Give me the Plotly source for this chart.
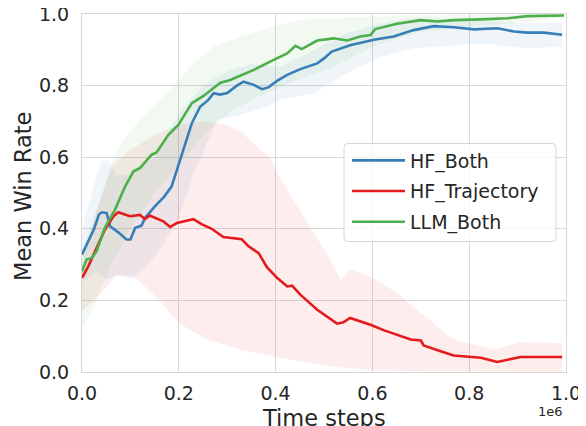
import plotly.graph_objects as go

# ---- data (x in units of 1e6 time steps) ----
hf_both_x = [0.0, 0.015, 0.025, 0.035, 0.041, 0.051, 0.058, 0.075, 0.092, 0.100, 0.110, 0.123, 0.130,
             0.150, 0.170, 0.185, 0.198, 0.213, 0.227, 0.244, 0.261, 0.272, 0.285, 0.300, 0.320, 0.334,
             0.355, 0.372, 0.385, 0.403, 0.424, 0.451, 0.486, 0.500, 0.516, 0.554, 0.603, 0.644, 0.685,
             0.727, 0.768, 0.810, 0.858, 0.893, 0.920, 0.954, 0.992]
hf_both_y = [0.328, 0.370, 0.400, 0.440, 0.446, 0.444, 0.407, 0.390, 0.370, 0.370, 0.403, 0.409, 0.430,
             0.462, 0.490, 0.518, 0.574, 0.639, 0.695, 0.741, 0.760, 0.779, 0.775, 0.779, 0.800, 0.811,
             0.802, 0.790, 0.795, 0.813, 0.830, 0.846, 0.862, 0.876, 0.895, 0.913, 0.928, 0.937, 0.955,
             0.966, 0.963, 0.957, 0.960, 0.951, 0.948, 0.948, 0.942]
hf_both_up_x = [0.0, 0.02, 0.04, 0.055, 0.07, 0.10, 0.15, 0.20, 0.25, 0.30, 0.35, 0.41, 0.48, 0.548,
                0.62, 0.685, 0.80, 0.90, 0.992]
hf_both_up = [0.40, 0.50, 0.59, 0.59, 0.55, 0.55, 0.60, 0.72, 0.80, 0.84, 0.86, 0.853, 0.90, 0.946,
              0.975, 0.988, 0.985, 0.975, 0.975]
hf_both_lo_x = [0.0, 0.03, 0.05, 0.07, 0.10, 0.13, 0.16, 0.20, 0.23, 0.279, 0.33, 0.382, 0.41, 0.48,
                0.548, 0.617, 0.685, 0.824, 0.92, 0.992]
hf_both_lo = [0.25, 0.28, 0.258, 0.27, 0.26, 0.29, 0.34, 0.43, 0.55, 0.704, 0.72, 0.741, 0.76, 0.78,
              0.835, 0.88, 0.904, 0.918, 0.904, 0.909]

hf_traj_x = [0.0, 0.013, 0.027, 0.047, 0.065, 0.075, 0.099, 0.120, 0.130, 0.140, 0.168, 0.182, 0.196,
             0.230, 0.247, 0.268, 0.292, 0.330, 0.344, 0.365, 0.382, 0.403, 0.424, 0.434, 0.451, 0.486,
             0.527, 0.540, 0.554, 0.568, 0.596, 0.623, 0.658, 0.679, 0.700, 0.706, 0.741, 0.768, 0.824,
             0.858, 0.906, 0.961, 0.992]
hf_traj_y = [0.263, 0.295, 0.337, 0.397, 0.435, 0.446, 0.435, 0.439, 0.427, 0.437, 0.421, 0.405, 0.416,
             0.427, 0.413, 0.400, 0.377, 0.371, 0.351, 0.332, 0.293, 0.263, 0.239, 0.241, 0.216, 0.174,
             0.135, 0.139, 0.151, 0.145, 0.132, 0.117, 0.102, 0.091, 0.088, 0.074, 0.058, 0.046, 0.040,
             0.028, 0.042, 0.041, 0.042]
hf_traj_up_x = [0.0, 0.03, 0.064, 0.10, 0.148, 0.20, 0.25, 0.30, 0.33, 0.36, 0.39, 0.403, 0.437, 0.479,
                0.513, 0.534, 0.554, 0.596, 0.651, 0.70, 0.768, 0.851, 0.906, 0.992]
hf_traj_up = [0.30, 0.45, 0.58, 0.62, 0.66, 0.69, 0.70, 0.69, 0.67, 0.63, 0.60, 0.556, 0.48, 0.388,
              0.314, 0.258, 0.286, 0.267, 0.221, 0.165, 0.091, 0.063, 0.083, 0.081]
hf_traj_lo_x = [0.0, 0.04, 0.07, 0.10, 0.13, 0.16, 0.20, 0.257, 0.327, 0.396, 0.45, 0.52, 0.60, 0.70, 0.992]
hf_traj_lo = [0.17, 0.22, 0.27, 0.27, 0.24, 0.20, 0.137, 0.091, 0.063, 0.044, 0.030, 0.016, 0.005, 0.002, 0.0]

llm_both_x = [0.0, 0.0095, 0.020, 0.030, 0.047, 0.068, 0.089, 0.106, 0.120, 0.144, 0.154, 0.178, 0.199,
              0.227, 0.251, 0.272, 0.286, 0.305, 0.327, 0.355, 0.396, 0.424, 0.441, 0.454, 0.486, 0.520,
              0.548, 0.575, 0.596, 0.606, 0.651, 0.700, 0.734, 0.768, 0.824, 0.879, 0.920, 0.996]
llm_both_y = [0.281, 0.314, 0.318, 0.337, 0.402, 0.453, 0.518, 0.560, 0.570, 0.607, 0.613, 0.662, 0.690,
              0.751, 0.771, 0.793, 0.808, 0.815, 0.827, 0.844, 0.872, 0.890, 0.911, 0.902, 0.926, 0.932,
              0.926, 0.937, 0.941, 0.958, 0.973, 0.983, 0.979, 0.983, 0.985, 0.988, 0.994, 0.996]
llm_both_up_x = [0.0, 0.03, 0.06, 0.085, 0.12, 0.175, 0.23, 0.272, 0.327, 0.396, 0.45, 0.55, 0.70, 0.996]
llm_both_up = [0.34, 0.45, 0.58, 0.648, 0.704, 0.779, 0.862, 0.909, 0.937, 0.965, 0.983, 0.99, 0.998, 1.0]
llm_both_lo_x = [0.0, 0.03, 0.06, 0.10, 0.15, 0.20, 0.25, 0.30, 0.35, 0.40, 0.45, 0.52, 0.60, 0.70,
                 0.80, 0.90, 0.996]
llm_both_lo = [0.12, 0.20, 0.30, 0.40, 0.50, 0.58, 0.66, 0.72, 0.76, 0.79, 0.82, 0.853, 0.909, 0.95,
               0.965, 0.975, 0.99]

x_ticks = [0.0, 0.2, 0.4, 0.6, 0.8, 1.0]
x_tick_labels = ["0.0", "0.2", "0.4", "0.6", "0.8", "1.0"]
y_ticks = [0.0, 0.2, 0.4, 0.6, 0.8, 1.0]
y_tick_labels = ["0.0", "0.2", "0.4", "0.6", "0.8", "1.0"]

series = [
    ("HF_Both", hf_both_x, hf_both_y, hf_both_up_x, hf_both_up, hf_both_lo_x, hf_both_lo, (55, 126, 184)),
    ("HF_Trajectory", hf_traj_x, hf_traj_y, hf_traj_up_x, hf_traj_up, hf_traj_lo_x, hf_traj_lo, (228, 26, 28)),
    ("LLM_Both", llm_both_x, llm_both_y, llm_both_up_x, llm_both_up, llm_both_lo_x, llm_both_lo, (77, 175, 74)),
]

FONT = "DejaVu Sans"
TXT = "#262626"

fig = go.Figure()
for name, x, y, ux, uy, lx, ly, c in series:
    fig.add_trace(go.Scatter(
        x=list(ux) + list(lx)[::-1], y=list(uy) + list(ly)[::-1],
        fill="toself", fillcolor="rgba(%d,%d,%d,0.08)" % c,
        line=dict(width=0), mode="lines", showlegend=False, hoverinfo="skip"))
for name, x, y, ux, uy, lx, ly, c in series:
    fig.add_trace(go.Scatter(
        x=x, y=y, mode="lines", name=name, legendgroup=name,
        line=dict(color="rgb(%d,%d,%d)" % c, width=2.6)))

# page body has an 8px margin: figure is shifted by 8px, so margins are reduced accordingly
PL, PT = 74, 6          # plot area starts at (82, 14) in the window
W, H = 484.0, 358.0     # plot area size
FW, FH = 578, 418

# legend frame (rounded), window coords 344..556 x 144..242
x0, x1 = (344 - 82) / W, (556 - 82) / W
y1, y0 = (372.5 - 144) / H, (372.5 - 242) / H
rx, ry = 4 / W, 4 / H
path = (f"M{x0+rx},{y0} L{x1-rx},{y0} Q{x1},{y0} {x1},{y0+ry} L{x1},{y1-ry} Q{x1},{y1} {x1-rx},{y1} "
        f"L{x0+rx},{y1} Q{x0},{y1} {x0},{y1-ry} L{x0},{y0+ry} Q{x0},{y0} {x0+rx},{y0} Z")
fig.add_shape(type="path", path=path, xref="paper", yref="paper", layer="above",
              fillcolor="rgba(255,255,255,0.8)", line=dict(color="#d6d6d6", width=1))

axis_common = dict(showgrid=True, gridcolor="#d9d9d9", gridwidth=1, zeroline=False,
                   showline=True, linecolor="#d6d6d6", linewidth=1.2, mirror=True,
                   automargin=False, ticks="", ticklabeloverflow="allow",
                   tickfont=dict(family=FONT, size=19, color=TXT))

fig.update_layout(
    width=FW, height=FH,
    margin=dict(l=PL, r=FW - PL - W, t=PT, b=FH - PT - H, pad=0, autoexpand=False),
    paper_bgcolor="white", plot_bgcolor="white",
    font=dict(family=FONT, color=TXT),
    xaxis=dict(range=[0, 1.0], tickvals=x_ticks, ticktext=x_tick_labels, ticklabelstandoff=4, **axis_common),
    yaxis=dict(range=[0, 1.0], tickvals=y_ticks, ticktext=y_tick_labels, ticklabelstandoff=8, **axis_common),
    legend=dict(x=(347 - 82) / W, y=(372.5 - 142) / H, xanchor="left", yanchor="top",
                bgcolor="rgba(0,0,0,0)", borderwidth=0, itemwidth=53, tracegroupgap=3,
                font=dict(family=FONT, size=19, color=TXT)),
    annotations=[
        dict(text="Mean Win Rate", xref="paper", yref="paper", x=0, y=0.5, xanchor="center",
             yanchor="middle", xshift=-59, yshift=-4, textangle=-90, showarrow=False,
             font=dict(family=FONT, size=22.5, color=TXT)),
        dict(text="Time steps", xref="paper", yref="paper", x=0.5, y=0, xanchor="center",
             yanchor="top", yshift=-30.5, showarrow=False,
             font=dict(family=FONT, size=22.5, color=TXT)),
        dict(text="1e6", xref="paper", yref="paper", x=1, y=0, xanchor="right",
             yanchor="top", yshift=-30, xshift=-1, showarrow=False,
             font=dict(family=FONT, size=13, color=TXT)),
    ],
)

fig.write_html("out.html")
